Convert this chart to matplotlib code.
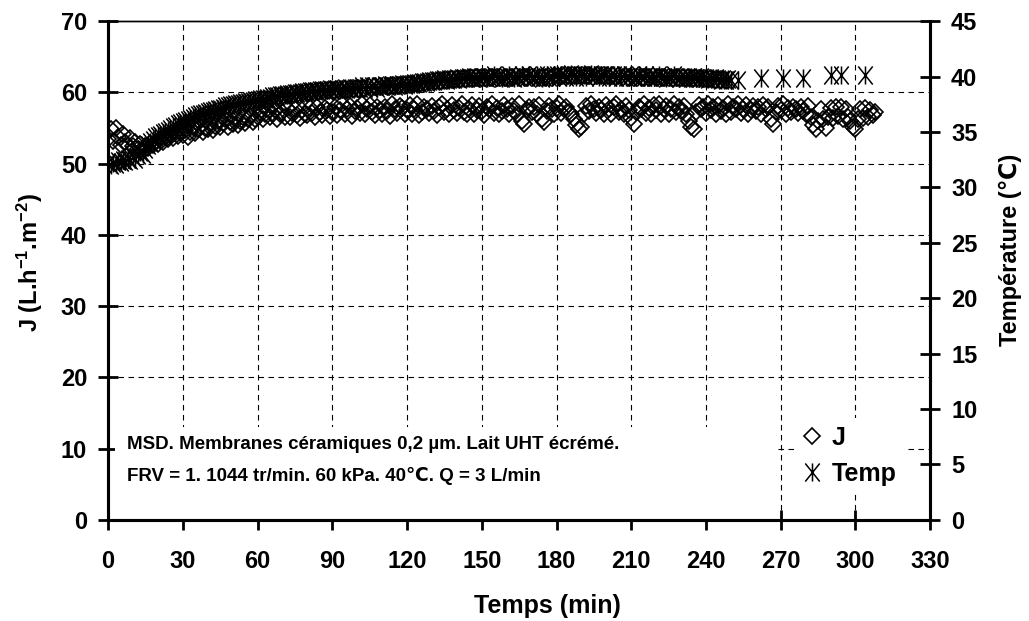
import numpy as np
import matplotlib
matplotlib.use("Agg")
import matplotlib.pyplot as plt
from matplotlib.path import Path
from matplotlib.patches import Rectangle

plt.rcParams["font.family"] = ["Liberation Sans", "DejaVu Sans"]
plt.rcParams["font.weight"] = "bold"
plt.rcParams["mathtext.fontset"] = "custom"
plt.rcParams["mathtext.bf"] = "Liberation Sans:bold"
plt.rcParams["mathtext.rm"] = "Liberation Sans:bold"
plt.rcParams["mathtext.default"] = "bf"

# Flux J (L.h-1.m-2), one reading per minute from 0 to 308 min
time_J = np.arange(0, 309)
flux_J = [53.5, 54.8, 53.2, 55.0, 53.8, 52.6, 54.2, 53.0, 52.4, 53.6,
          52.4, 53.1, 52.0, 52.7, 51.8, 52.5, 52.2, 52.9, 52.6, 53.1,
          52.8, 53.5, 53.1, 53.8, 53.4, 54.0, 53.6, 54.3, 53.9, 54.4,
          54.0, 54.7, 53.8, 54.4, 55.1, 54.3, 54.9, 55.3, 54.5, 55.0,
          54.9, 55.6, 54.7, 55.3, 56.0, 55.1, 55.7, 56.2, 55.2, 55.8,
          55.6, 56.2, 55.4, 56.0, 56.6, 55.7, 56.3, 56.7, 55.8, 56.2,
          56.6, 57.3, 56.2, 57.0, 57.7, 56.5, 57.1, 57.5, 56.3, 56.9,
          57.3, 56.6, 57.8, 56.5, 57.1, 57.7, 56.8, 56.4, 57.5, 57.0,
          56.8, 57.8, 57.1, 56.5, 58.0, 57.3, 56.8, 57.8, 57.5, 56.7,
          57.2, 57.9, 56.8, 57.5, 58.3, 57.0, 57.7, 58.1, 56.7, 57.4,
          57.8, 57.1, 58.4, 56.9, 57.6, 58.2, 57.3, 56.8, 57.9, 57.5,
          57.0, 58.0, 57.4, 56.7, 58.3, 57.6, 57.1, 58.1, 57.8, 56.9,
          57.5, 58.2, 57.0, 57.7, 58.4, 56.8, 57.3, 58.0, 57.6, 57.1,
          58.1, 57.4, 56.8, 57.9, 58.3, 57.2, 57.6, 56.9, 58.2, 57.5,
          57.1, 57.8, 58.4, 57.3, 56.9, 57.7, 58.2, 57.0, 57.5, 58.1,
          57.4, 56.8, 58.0, 57.6, 58.3, 57.1, 57.8, 56.9, 57.4, 58.2,
          57.7, 57.0, 58.1, 57.4, 56.9, 58.3, 56.0, 55.6, 57.5, 58.0,
          57.2, 57.9, 57.0, 58.2, 56.2, 55.8, 57.4, 58.1, 57.6, 56.9,
          57.8, 58.3, 57.1, 57.6, 58.0, 57.3, 56.9, 56.2, 55.4, 54.8,
          55.2, 57.0, 58.1, 57.4, 58.3, 57.7, 57.1, 58.0, 57.5, 56.9,
          58.2, 57.6, 57.0, 57.9, 58.4, 57.2, 57.7, 56.9, 58.1, 57.5,
          56.4, 55.6, 57.3, 58.0, 57.6, 58.3, 57.1, 57.8, 57.0, 58.2,
          57.5, 58.4, 57.0, 57.7, 58.1, 56.9, 57.6, 58.3, 57.2, 57.9,
          57.4, 58.1, 57.0, 56.0, 55.2, 54.9, 57.3, 58.2, 57.6, 58.0,
          57.1, 58.3, 57.5, 57.9, 56.9, 58.2, 57.4, 57.8, 57.0, 58.4,
          57.3, 58.0, 57.6, 58.3, 57.1, 57.7, 58.2, 56.9, 57.5, 58.1,
          57.4, 57.9, 57.0, 58.2, 57.6, 58.0, 56.2, 55.6, 57.2, 58.1,
          57.5, 58.3, 57.0, 57.8, 57.3, 58.0, 57.6, 57.1, 57.9, 57.4,
          57.0, 58.1, 56.6, 55.4, 54.8, 56.0, 57.6, 56.2, 55.0, 56.6,
          57.8, 56.4, 58.0, 56.7, 57.9, 56.3, 57.7, 56.5, 56.0, 55.2,
          54.9, 56.2, 57.6, 56.4, 57.8, 56.6, 57.5, 56.8, 57.2]

# Temperature (°C): one reading per minute up to 250 min, then sparse readings
time_T = list(np.arange(0, 251)) + [253, 262, 271, 279, 290, 294, 304]
temp_T = [32.3, 32.0, 32.2, 32.1, 32.4, 32.3, 32.5, 32.4, 32.6, 32.5,
          32.7, 32.6, 32.9, 33.2, 33.0, 33.5, 33.8, 34.1, 34.3, 34.5,
          34.6, 34.7, 34.9, 35.0, 35.1, 35.3, 35.4, 35.5, 35.7, 35.8,
          35.9, 36.0, 36.1, 36.2, 36.3, 36.4, 36.5, 36.6, 36.6, 36.7,
          36.8, 36.9, 36.9, 37.0, 37.1, 37.1, 37.2, 37.3, 37.3, 37.4,
          37.4, 37.5, 37.5, 37.6, 37.6, 37.7, 37.7, 37.8, 37.8, 37.9,
          37.9, 38.0, 38.0, 38.0, 38.1, 38.1, 38.2, 38.2, 38.2, 38.3,
          38.3, 38.3, 38.4, 38.4, 38.4, 38.5, 38.5, 38.5, 38.6, 38.6,
          38.6, 38.7, 38.7, 38.7, 38.7, 38.8, 38.8, 38.8, 38.8, 38.9,
          38.8, 38.9, 38.9, 38.8, 38.9, 39.0, 38.9, 39.0, 38.9, 39.0,
          39.0, 39.0, 39.1, 39.0, 39.1, 39.0, 39.1, 39.1, 39.0, 39.1,
          39.1, 39.2, 39.1, 39.2, 39.2, 39.1, 39.2, 39.2, 39.3, 39.2,
          39.3, 39.3, 39.3, 39.4, 39.4, 39.4, 39.5, 39.5, 39.5, 39.6,
          39.6, 39.6, 39.7, 39.7, 39.7, 39.8, 39.7, 39.8, 39.8, 39.8,
          39.9, 39.8, 39.9, 39.9, 39.9, 40.0, 39.9, 40.0, 40.0, 39.9,
          40.0, 40.0, 39.9, 40.0, 40.0, 40.1, 40.0, 40.0, 39.9, 40.0,
          40.0, 40.1, 40.0, 39.9, 40.0, 40.0, 40.1, 40.0, 40.0, 40.1,
          40.0, 40.0, 40.1, 40.0, 39.9, 40.0, 40.1, 40.0, 40.0, 40.1,
          40.1, 40.0, 40.1, 40.1, 40.0, 40.1, 40.2, 40.1, 40.0, 40.1,
          40.1, 40.1, 40.0, 40.1, 40.2, 40.1, 40.1, 40.0, 40.1, 40.1,
          40.1, 40.0, 40.1, 40.1, 40.0, 40.1, 40.0, 40.1, 40.0, 40.0,
          40.1, 40.0, 40.0, 40.1, 40.0, 40.0, 40.1, 40.0, 40.0, 40.0,
          40.0, 40.1, 40.0, 40.0, 39.9, 40.0, 40.0, 40.1, 40.0, 39.9,
          40.0, 40.0, 39.9, 40.0, 39.9, 40.0, 39.9, 39.9, 40.0, 39.9,
          39.9, 39.8, 39.9, 39.8, 39.9, 39.8, 39.7, 39.8, 39.7, 39.8,
          39.7,
          39.7, 39.9, 39.9, 39.9, 40.1, 40.1, 40.1]

note_lines = ["MSD. Membranes céramiques 0,2 µm. Lait UHT écrémé.",
              "FRV = 1. 1044 tr/min. 60 kPa. 40℃. Q = 3 L/min"]

# Excel-like asterisk: an X plus a vertical bar
asterisk = Path([(-0.8, -1), (0.8, 1), (-0.8, 1), (0.8, -1), (0, -1), (0, 1)],
                [Path.MOVETO, Path.LINETO, Path.MOVETO, Path.LINETO,
                 Path.MOVETO, Path.LINETO])

fig = plt.figure(figsize=(10.29, 6.21), dpi=100)
ax = fig.add_axes([0.105, 0.163, 0.799, 0.803])
ax2 = ax.twinx()

ax.plot(time_J, flux_J, linestyle="none", marker="D", ms=8, mfc="none",
        mec="black", mew=1.2, label="J")
ax2.plot(time_T, temp_T, linestyle="none", marker=asterisk, ms=13,
         mfc="none", mec="black", mew=1.1, label="Temp")

ax.set_xlim(0, 330)
ax.set_ylim(0, 70)
ax2.set_ylim(0, 45)
ax.set_xticks(range(0, 331, 30))
ax.set_yticks(range(0, 71, 10))
ax2.set_yticks(range(0, 46, 5))

# dashed grid, only inside the frame
for x in range(30, 301, 30):
    ax.axvline(x, color="black", lw=0.8, ls=(0, (5, 4)), zorder=1)
for y in range(10, 61, 10):
    ax.axhline(y, color="black", lw=0.8, ls=(0, (5, 4)), zorder=1)

# white box behind the note
ax.add_patch(Rectangle((0.008, 0.0), 0.805, 0.186, transform=ax.transAxes,
                       facecolor="white", edgecolor="none", zorder=1.6))
ax.text(0.023, 0.1423, note_lines[0], transform=ax.transAxes, fontsize=13.5,
        fontweight="bold", va="baseline", ha="left", zorder=3)
ax.text(0.023, 0.0782, note_lines[1], transform=ax.transAxes, fontsize=13.5,
        fontweight="bold", va="baseline", ha="left", zorder=3)

for a in (ax, ax2):
    for s in ("left", "right", "bottom"):
        a.spines[s].set_linewidth(2.2)
    a.spines["top"].set_linewidth(1.0)
    a.tick_params(direction="inout", length=14, width=2, labelsize=17, pad=8)
ax.tick_params(axis="x", pad=15)
for lab in ax.get_xticklabels() + ax.get_yticklabels() + ax2.get_yticklabels():
    lab.set_fontweight("bold")

ax.set_xlabel("Temps (min)", fontsize=18, fontweight="bold")
ax.xaxis.set_label_coords(0.534, -0.172)
ax.xaxis.label.set_va("center")
ax.set_ylabel("J (L.h$^{-1}$.m$^{-2}$)", fontsize=17, fontweight="bold")
ax.yaxis.set_label_coords(-0.095, 0.515)
ax.yaxis.label.set_va("center")
ax2.set_ylabel("Température (℃)", fontsize=17, fontweight="bold")
ax2.yaxis.set_label_coords(1.097, 0.541)
ax2.yaxis.label.set_va("center")

h1, l1 = ax.get_legend_handles_labels()
h2, l2 = ax2.get_legend_handles_labels()
leg = ax2.legend(h1 + h2, l1 + l2, loc="center left", bbox_to_anchor=(0.835, 0.128),
                 prop={"size": 18, "weight": "bold"}, handlelength=0.8,
                 handletextpad=0.4, labelspacing=0.5, borderpad=0.3,
                 borderaxespad=0, frameon=True, fancybox=False)
leg.get_frame().set_facecolor("white")
leg.get_frame().set_edgecolor("none")
leg.get_frame().set_alpha(1)

fig.savefig("out.png", dpi=100)
